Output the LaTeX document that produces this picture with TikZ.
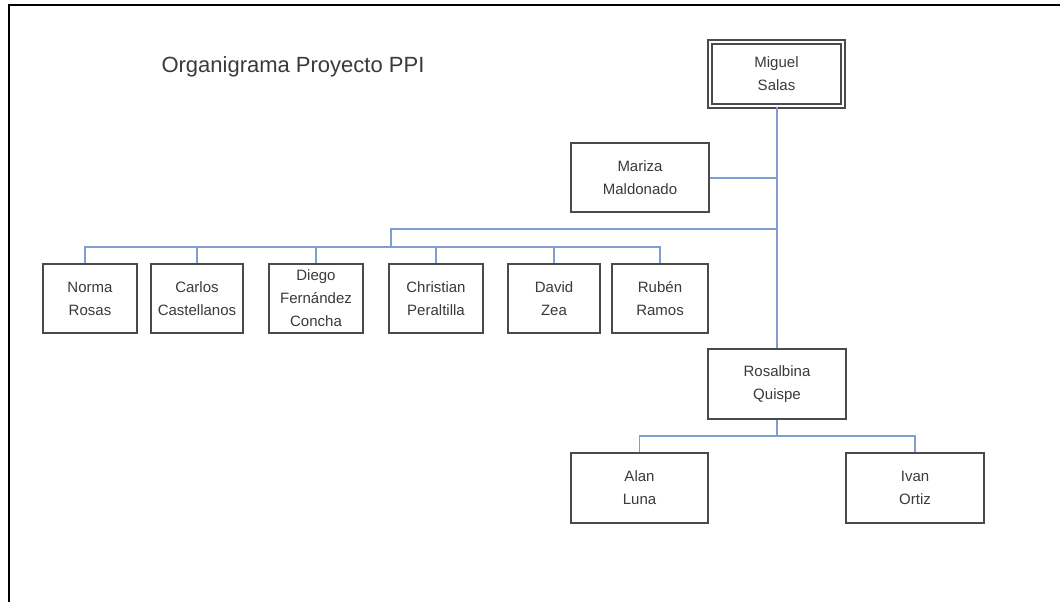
\documentclass[tikz,border=0pt]{standalone}
\usepackage{fontspec}
\setmainfont{Liberation Sans}
\usetikzlibrary{calc}
\definecolor{conn}{HTML}{7F9FD0}
\definecolor{boxc}{HTML}{4A4A4A}
\definecolor{txt}{HTML}{3A3A3A}
\begin{document}
\begin{tikzpicture}[x=1pt,y=-1pt,
  person/.style 2 args={draw=boxc, line width=1.5pt, fill=white, text=txt, align=center,
    font=\fontsize{15}{23}\selectfont, inner sep=0pt, minimum width=#1, minimum height=#2},
  chief/.style={draw=boxc, line width=1.8pt, double=white, double distance=2.2pt, text=txt,
    align=center, font=\fontsize{15}{23}\selectfont, inner sep=0pt, minimum width=133pt, minimum height=64pt},
  link/.style={draw=conn, line width=1.8pt},
  frame/.style={draw=black, line width=2.5pt}]
\useasboundingbox (0,0) rectangle (1060,602);
\draw[frame] (9,602) -- (9,5) -- (1060,5);

\node[anchor=base west, font=\fontsize{22}{26}\selectfont, text=txt] (title) at (158,73) {Organigrama Proyecto PPI};

\node[chief] (miguel) at (776.5,74) {Miguel\\Salas};
\node[person={138pt}{69pt}] (mariza) at (640,177.5) {Mariza\\Maldonado};

\node[person={94pt}{69pt}] (norma) at (90,298.5) {Norma\\Rosas};
\node[person={92pt}{69pt}] (carlos) at (197,298.5) {Carlos\\Castellanos};
\node[person={94pt}{69pt}] (diego) at (316,298.5) {Diego\\Fernández\\Concha};
\node[person={94pt}{69pt}] (christian) at (436,298.5) {Christian\\Peraltilla};
\node[person={92pt}{69pt}] (david) at (554,298.5) {David\\Zea};
\node[person={96pt}{69pt}] (ruben) at (660,298.5) {Rubén\\Ramos};

\node[person={138pt}{70pt}] (rosalbina) at (777,384) {Rosalbina\\Quispe};
\node[person={137pt}{70pt}] (alan) at (639.5,488) {Alan\\Luna};
\node[person={138pt}{70pt}] (ivan) at (915,488) {Ivan\\Ortiz};

\coordinate (busT) at (391,229);
\coordinate (busB) at (391,247);
\coordinate (rb) at (777,436);

\draw[link] (miguel.south -| rosalbina.north) -- (rosalbina.north);
\draw[link] ($(mariza.east)+(0,0.5)$) -- ($(mariza.east -| rosalbina.north)+(0,0.5)$);
\draw[link] (busT -| rosalbina.north) -- (busT) -- (busB);
\draw[link] (busB) -| ($(norma.north)+(-5,0)$);
\draw[link] (busB) -| (carlos.north);
\draw[link] (busB) -| (diego.north);
\draw[link] (busB) -| (christian.north);
\draw[link] (busB) -| (david.north);
\draw[link] (busB) -| (ruben.north);
\draw[link] (rosalbina.south) -- (rb) -| (alan.north);
\draw[link] (rb) -| (ivan.north);
\end{tikzpicture}
\end{document}
